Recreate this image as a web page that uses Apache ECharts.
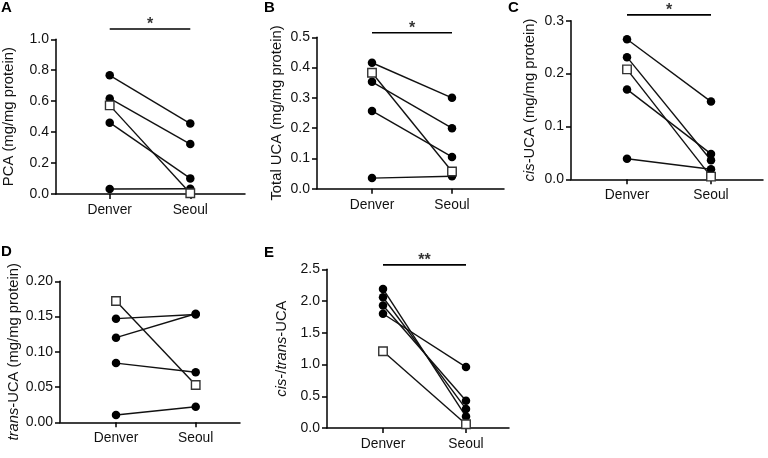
<!DOCTYPE html>
<html>
<head>
<meta charset="utf-8">
<script src="https://cdn.jsdelivr.net/npm/echarts@6/dist/echarts.min.js"></script>
<style>
html,body{margin:0;padding:0;background:#fff;}
#chart{width:768px;height:458px;}
</style>
</head>
<body>
<div id="chart"></div>
<script>
// ---- data ----
const categories = ['Denver', 'Seoul'];

// A: PCA (mg/mg protein)
const pcaDenver = [0.767, 0.618, 0.573, 0.461, 0.032];
const pcaSeoul  = [0.455, 0.323, 0.005, 0.101, 0.034];
// B: Total UCA (mg/mg protein)
const totalUcaDenver = [0.416, 0.353, 0.383, 0.257, 0.035];
const totalUcaSeoul  = [0.300, 0.200, 0.057, 0.105, 0.041];
// C: cis-UCA (mg/mg protein)
const cisDenver = [0.265, 0.231, 0.208, 0.170, 0.039];
const cisSeoul  = [0.147, 0.036, 0.005, 0.048, 0.019];
// D: trans-UCA (mg/mg protein)
const transDenver = [0.147, 0.120, 0.172, 0.084, 0.0104];
const transSeoul  = [0.153, 0.154, 0.053, 0.071, 0.022];
// E: cis-/trans-UCA
const ratioDenver = [2.19, 2.06, 1.21, 1.93, 1.80];
const ratioSeoul  = [0.18, 0.30, 0.06, 0.43, 0.96];

// index of the subject drawn with an open square
const openSubject = 2;

// significance annotations (value level of the bar, label)
const sigA = {level: 1.067, text: '*'};
const sigB = {level: 0.515, text: '*'};
const sigC = {level: 0.311, text: '*'};
const sigE = {level: 2.57, text: '**'};

// ---- layout (pixels) ----
const panels = [
  {letter:'A', den:pcaDenver, seo:pcaSeoul, yMax:1.0, yStep:0.2, dec:1,
   name:'PCA (mg/mg protein)', sig:sigA,
   L:55, T:39.3, B:194, R:245, Dx:109, Sx:190, nameGap:40, lx:1, ly:0},
  {letter:'B', den:totalUcaDenver, seo:totalUcaSeoul, yMax:0.5, yStep:0.1, dec:1,
   name:'Total UCA (mg/mg protein)', sig:sigB,
   L:317, T:37.3, B:188.7, R:504, Dx:372, Sx:452, nameGap:33, lx:264, ly:0},
  {letter:'C', den:cisDenver, seo:cisSeoul, yMax:0.3, yStep:0.1, dec:1,
   name:'{i|cis}-UCA (mg/mg protein)', sig:sigC,
   L:571, T:20.7, B:179.3, R:763, Dx:627, Sx:711, nameGap:34, lx:508, ly:0},
  {letter:'D', den:transDenver, seo:transSeoul, yMax:0.2, yStep:0.05, dec:2,
   name:'{i|trans}-UCA (mg/mg protein)', sig:null,
   L:60, T:281.3, B:422.3, R:240, Dx:116, Sx:195.7, nameGap:37, lx:1, ly:244},
  {letter:'E', den:ratioDenver, seo:ratioSeoul, yMax:2.5, yStep:0.5, dec:1,
   name:'{i|cis}-/{i|trans}-UCA', sig:sigE,
   L:327, T:269.3, B:428, R:509, Dx:383, Sx:466, nameGap:38, lx:264, ly:245}
];

const FONT = '"Liberation Sans", Arial, Helvetica, sans-serif';
const TXT = '#111';

const option = {
  animation: false,
  backgroundColor: '#fff',
  title: [], grid: [], xAxis: [], yAxis: [], series: []
};

panels.forEach((p, k) => {
  option.title.push({
    text: p.letter, left: p.lx, top: p.ly, padding: 0,
    textStyle: {fontFamily: FONT, fontWeight: 'bold', fontSize: 15, color: '#000'}
  });
  option.grid.push({left: p.L, top: p.T, width: p.R - p.L, height: p.B - p.T, containLabel: false});
  const span = p.Sx - p.Dx;
  option.xAxis.push({
    type: 'value', gridIndex: k,
    min: -(p.Dx - p.L) / span, max: (p.R - p.Dx) / span,
    splitLine: {show: false},
    axisLine: {show: true, onZero: false, lineStyle: {color: '#000', width: 1.5}},
    axisTick: {show: true, customValues: [0, 1], length: 5, lineStyle: {color: '#000', width: 1.5}},
    axisLabel: {show: true, customValues: [0, 1], margin: 9,
      formatter: v => categories[Math.round(v)],
      fontFamily: FONT, fontSize: 13.8, color: TXT}
  });
  option.yAxis.push({
    type: 'value', gridIndex: k, min: 0, max: p.yMax, interval: p.yStep,
    name: p.name, nameLocation: 'middle', nameGap: p.nameGap, nameRotate: 90,
    nameTextStyle: {fontFamily: FONT, fontSize: 14.8, color: TXT,
      rich: {i: {fontFamily: FONT, fontSize: 14.8, fontStyle: 'italic', color: TXT}}},
    splitLine: {show: false},
    axisLine: {show: true, onZero: false, lineStyle: {color: '#000', width: 1.5}},
    axisTick: {show: true, length: 5, lineStyle: {color: '#000', width: 1.5}},
    axisLabel: {margin: 7, formatter: v => v.toFixed(p.dec),
      fontFamily: FONT, fontSize: 14, color: TXT}
  });
  p.den.forEach((d, i) => {
    const open = i === openSubject;
    option.series.push({
      type: 'line', xAxisIndex: k, yAxisIndex: k, clip: false,
      data: [[0, d], [1, p.seo[i]]],
      symbol: open ? 'rect' : 'circle',
      symbolSize: open ? 8.5 : 8.5,
      lineStyle: {color: '#111', width: 1.4},
      itemStyle: open ? {color: '#fff', borderColor: '#333', borderWidth: 1.4}
                      : {color: '#000', borderColor: '#000', borderWidth: 0},
      z: open ? 4 : 3
    });
  });
  if (p.sig) {
    option.series.push({
      type: 'line', xAxisIndex: k, yAxisIndex: k, clip: false,
      data: [[0, p.sig.level], [1, p.sig.level]],
      symbol: 'none', lineStyle: {color: '#000', width: 1.6}
    });
    option.series.push({
      type: 'scatter', xAxisIndex: k, yAxisIndex: k, clip: false,
      data: [[0.5, p.sig.level]], symbolSize: 0,
      label: {show: true, position: 'top', distance: -4, formatter: p.sig.text,
        fontFamily: FONT, fontSize: 16, fontWeight: 'bold', color: '#000'}
    });
  }
});

const chart = echarts.init(document.getElementById('chart'), null, {renderer: 'canvas'});
chart.setOption(option);
</script>
</body>
</html>
